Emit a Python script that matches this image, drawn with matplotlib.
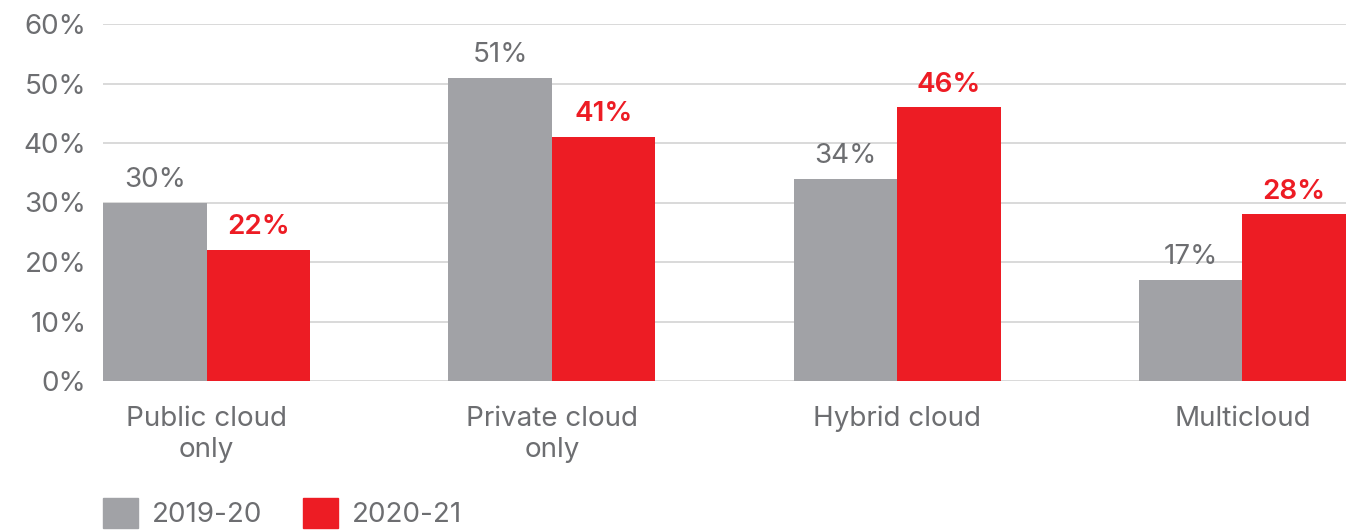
import numpy as np
import matplotlib
matplotlib.use("Agg")
import matplotlib.pyplot as plt
from matplotlib.patches import Patch

categories = ["Public cloud\nonly", "Private cloud\nonly", "Hybrid cloud", "Multicloud"]
series_names = ["2019-20", "2020-21"]
values_1920 = [30, 51, 34, 17]
values_2021 = [22, 41, 46, 28]

GRAY = "#a1a2a6"
RED = "#ed1c24"
TEXT = "#6d6e71"
GRID = "#d3d3d3"

plt.rcParams["font.family"] = ["Inter", "DejaVu Sans"]
FS = 20

fig = plt.figure(figsize=(13.56, 5.30), dpi=100)
ax = fig.add_axes([103 / 1356, 1 - 381 / 530, (1346 - 103) / 1356, (381 - 24) / 530])

x = np.arange(len(categories))
w = 0.3
b1 = ax.bar(x - w / 2, values_1920, w, color=GRAY, zorder=2)
b2 = ax.bar(x + w / 2, values_2021, w, color=RED, zorder=2)

ax.bar_label(b1, labels=[f"{v}%" for v in values_1920], padding=7,
             fontsize=FS, color=TEXT)
ax.bar_label(b2, labels=[f"{v}%" for v in values_2021], padding=7,
             fontsize=FS, color=RED, fontweight="semibold")

ax.set_xlim(-0.3, len(categories) - 1 + 0.3)
ax.set_ylim(0, 60)
ax.set_yticks(range(0, 61, 10))
ax.set_yticklabels([f"{t}%" for t in range(0, 61, 10)])
ax.set_xticks(x)
ax.set_xticklabels(categories, linespacing=1.25)
ax.tick_params(axis="both", length=0, labelsize=FS, colors=TEXT)
ax.tick_params(axis="y", pad=12)
ax.tick_params(axis="x", pad=18)
ax.yaxis.grid(True, color=GRID, linewidth=1.2, zorder=0)
ax.set_axisbelow(True)
for s in ax.spines.values():
    s.set_visible(False)

handles = [Patch(color=GRAY), Patch(color=RED)]
fig.legend(handles, series_names, loc="center left",
           bbox_to_anchor=(103 / 1356, 1 - 513 / 530), frameon=False,
           ncol=2, fontsize=FS, labelcolor=TEXT, handlelength=1.27,
           handleheight=1.27, handletextpad=0.5, columnspacing=1.45,
           borderpad=0, borderaxespad=0)

fig.savefig("out.png", dpi=100)
